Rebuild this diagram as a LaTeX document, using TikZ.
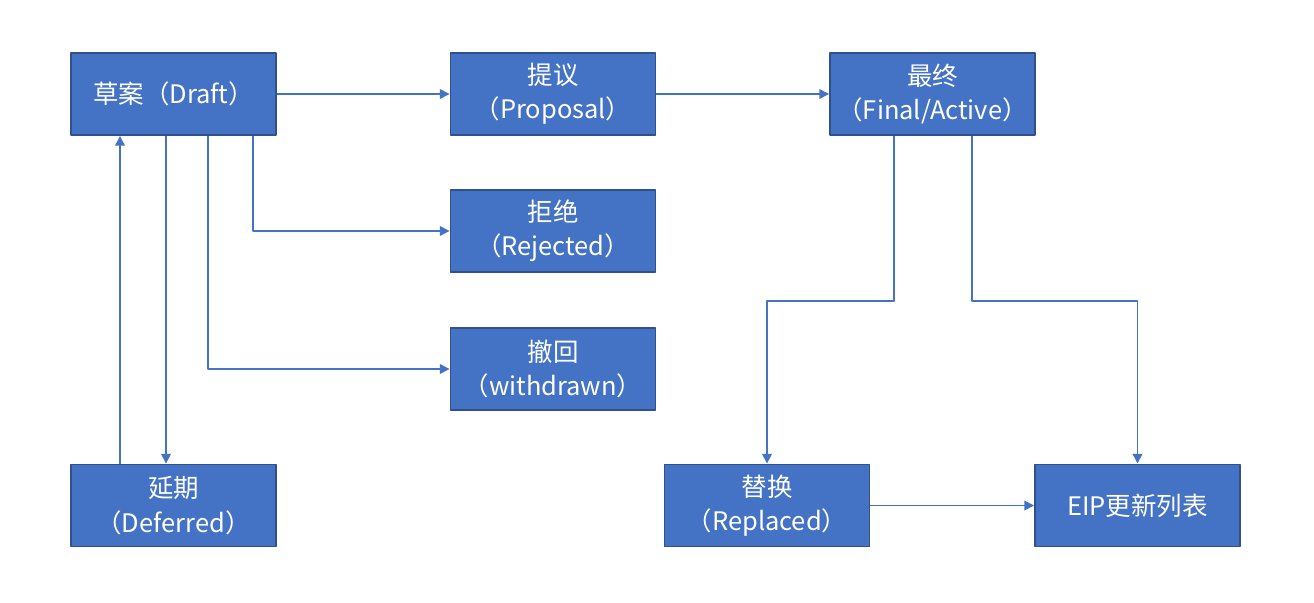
\documentclass[tikz,border=0pt]{standalone}
\usepackage{fontspec}
\setmainfont{Noto Sans CJK SC}
\usetikzlibrary{arrows.meta}
\definecolor{boxfill}{HTML}{4472C4}
\definecolor{boxline}{HTML}{2F528F}
\begin{document}
\begin{tikzpicture}[>={Triangle[length=5.5pt,width=5.5pt]}, line join=round,
	state/.style={draw=boxline, fill=boxfill, line width=1.1pt, text=white, align=center,
		minimum width=4.1cm, minimum height=1.64cm, inner sep=2pt,
		font=\fontsize{14.5}{19.5}\selectfont},
	link/.style={->, draw=boxfill, line width=0.85pt}]
	\useasboundingbox (0,0) rectangle (26.28,-12.04);
	% cac trang thai
	\node[state] (draft) at (3.47,-1.88) {草案（Draft）};
	\node[state] (proposal) at (11.06,-1.88) {提议\\（Proposal）};
	\node[state] (final) at (18.65,-1.88) {最终\\（Final/Active）};
	\node[state] (rejected) at (11.06,-4.62) {拒绝\\（Rejected）};
	\node[state] (withdrawn) at (11.06,-7.38) {撤回\\（withdrawn）};
	\node[state] (deferred) at (3.47,-10.11) {延期\\（Deferred）};
	\node[state] (replaced) at (15.34,-10.11) {替换\\（Replaced）};
	\node[state] (eiplist) at (22.75,-10.11) {EIP更新列表};
	% cac mui ten
	\draw[link] (draft) -- (proposal);
	\draw[link] (proposal) -- (final);
	\draw[link] ([xshift=1.59cm]draft.south) |- (rejected.west);
	\draw[link] ([xshift=0.69cm]draft.south) |- (withdrawn.west);
	\draw[link] ([xshift=-0.15cm]draft.south) -- ([xshift=-0.15cm]deferred.north);
	\draw[link] ([xshift=-1.07cm]deferred.north) -- ([xshift=-1.07cm]draft.south);
	\draw[link] ([xshift=-0.77cm]final.south) -- ++(0,-3.3) -| (replaced.north);
	\draw[link] ([xshift=0.79cm]final.south) -- ++(0,-3.3) -| (eiplist.north);
	\draw[link] (replaced) -- (eiplist);
\end{tikzpicture}
\end{document}
